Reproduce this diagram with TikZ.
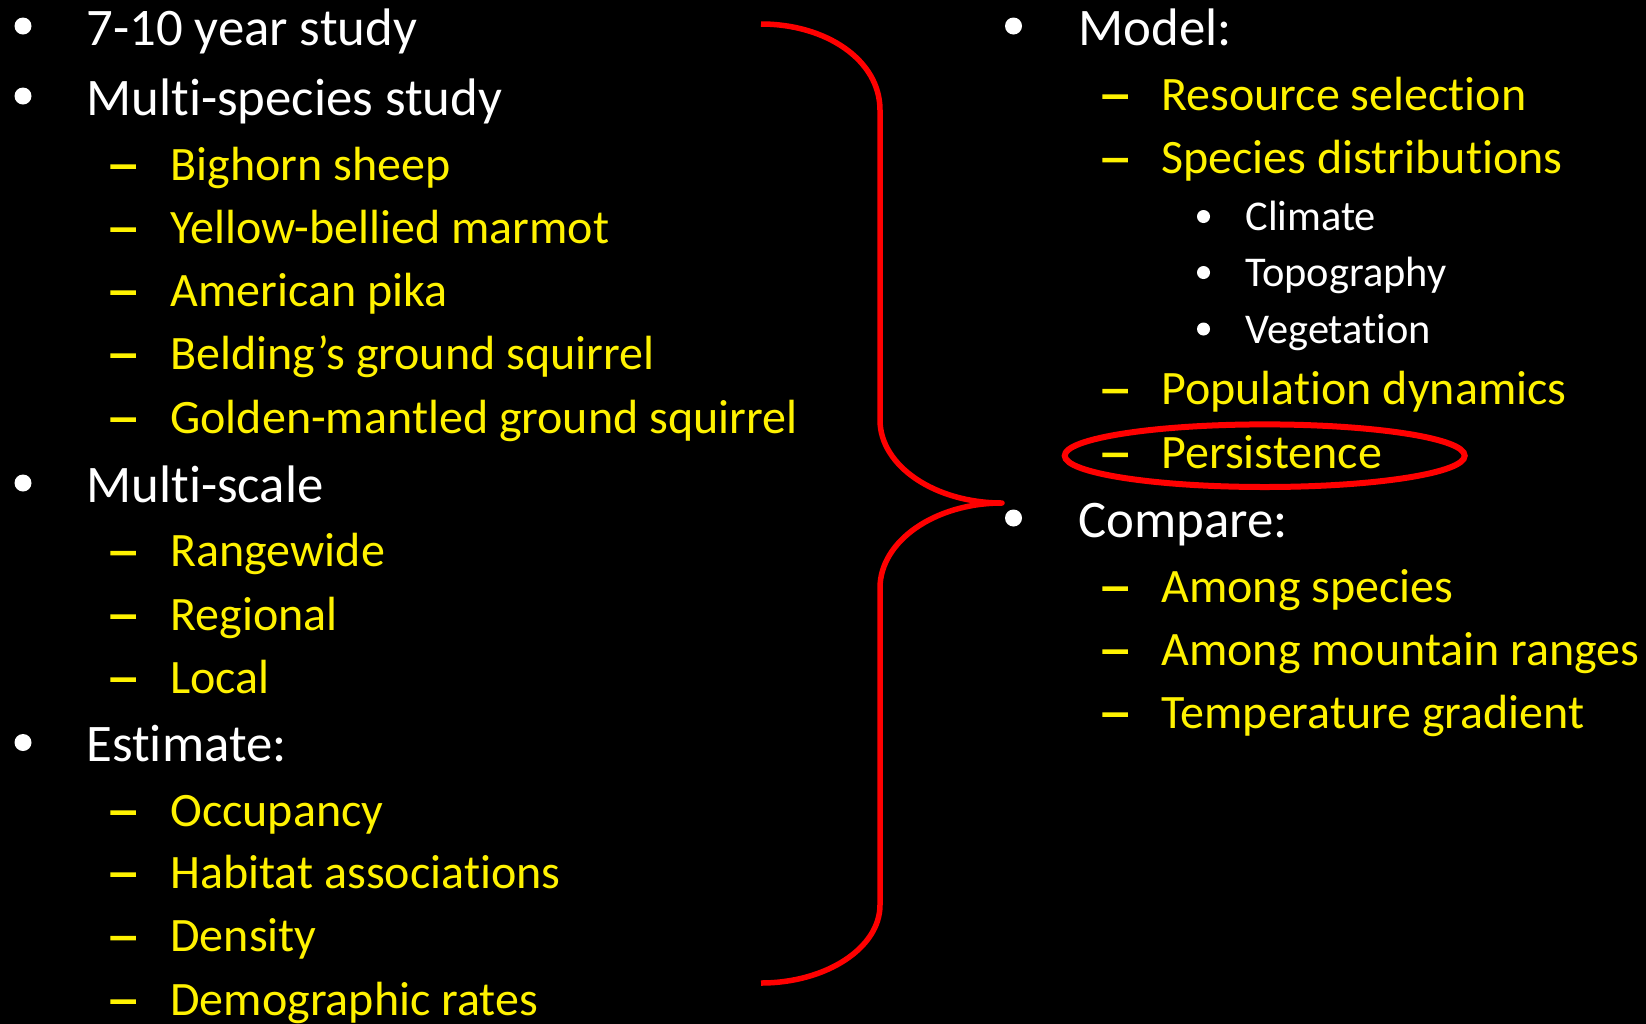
\documentclass[tikz,border=0pt]{standalone}
\usepackage{fontspec}
\setmainfont{Carlito}[Ligatures={NoCommon,NoContextual}]
\newfontfamily\dashfont{Carlito}[FakeStretch=1.4, FakeBold=3]
\begin{document}
\begin{tikzpicture}[x=0.5pt,y=-0.5pt,
  lone/.style={anchor=base west, inner sep=0pt, text=white, font=\fontsize{26.4}{30}\selectfont},
  ltwo/.style={anchor=base west, inner sep=0pt, text=yellow, font=\fontsize{24}{28}\selectfont},
  ldash/.style={anchor=base west, inner sep=0pt, text=yellow, font=\dashfont\fontsize{24}{28}\selectfont},
  lthree/.style={anchor=base west, inner sep=0pt, text=white, font=\fontsize{21.2}{25}\selectfont},
  bigdot/.style={circle, fill=white, inner sep=0pt, minimum size=8.5pt},
  smalldot/.style={circle, fill=white, inner sep=0pt, minimum size=6.5pt},
  bracestroke/.style={draw=red, line width=2.75pt, line join=round},
  ringstroke/.style={draw=red, line width=3pt}]
\fill[black] (0,0) rectangle (1646,1024);
\useasboundingbox (0,0) rectangle (1646,1024);
\clip (0,0) rectangle (1646,1024);
% ---------- left column ----------
\node[bigdot] (b1) at (23,26) {};
\node[lone] (t1) at (86,45) {7-10 year study};
\node[bigdot] (b2) at (23,96) {};
\node[lone] (t2) at (86,115) {Multi-species study};
\node[ldash] (d21) at (106,180) {–}; \node[ltwo] (t21) at (170,180) {Bighorn sheep};
\node[ldash] (d22) at (106,243) {–}; \node[ltwo] (t22) at (170,243) {Yellow-bellied marmot};
\node[ldash] (d23) at (106,306) {–}; \node[ltwo] (t23) at (170,306) {American pika};
\node[ldash] (d24) at (106,369) {–}; \node[ltwo] (t24) at (170,369) {Belding’s ground squirrel};
\node[ldash] (d25) at (106,433) {–}; \node[ltwo] (t25) at (170,433) {Golden-mantled ground squirrel};
\node[bigdot] (b3) at (23,483) {};
\node[lone] (t3) at (86,502) {Multi-scale};
\node[ldash] (d31) at (106,566.5) {–}; \node[ltwo] (t31) at (170,566.5) {Rangewide};
\node[ldash] (d32) at (106,630) {–}; \node[ltwo] (t32) at (170,630) {Regional};
\node[ldash] (d33) at (106,693) {–}; \node[ltwo] (t33) at (170,693) {Local};
\node[bigdot] (b4) at (23,742.5) {};
\node[lone] (t4) at (86,761.5) {Estimate:};
\node[ldash] (d41) at (106,826) {–}; \node[ltwo] (t41) at (170,826) {Occupancy};
\node[ldash] (d42) at (106,888) {–}; \node[ltwo] (t42) at (170,888) {Habitat associations};
\node[ldash] (d43) at (106,951.5) {–}; \node[ltwo] (t43) at (170,951.5) {Density};
\node[ldash] (d44) at (106,1015) {–}; \node[ltwo] (t44) at (170,1015) {Demographic rates};
% ---------- right column ----------
\node[bigdot] (b5) at (1013.5,26) {};
\node[lone] (t5) at (1078,45) {Model:};
\node[ldash] (d51) at (1098,110) {–}; \node[ltwo] (t51) at (1161,110) {Resource selection};
\node[ldash] (d52) at (1098,173.5) {–}; \node[ltwo] (t52) at (1161,173.5) {Species distributions};
\node[smalldot] (s1) at (1203.5,216.5) {}; \node[lthree] (u1) at (1245,230.5) {Climate};
\node[smalldot] (s2) at (1203.5,272.5) {}; \node[lthree] (u2) at (1245,286.5) {Topography};
\node[smalldot] (s3) at (1203.5,329) {}; \node[lthree] (u3) at (1245,343) {Vegetation};
\node[ldash] (d53) at (1098,404.5) {–}; \node[ltwo] (t53) at (1161,404.5) {Population dynamics};
\node[ldash] (d54) at (1098,468.3) {–}; \node[ltwo] (t54) at (1161,468.3) {Persistence};
\node[bigdot] (b6) at (1013.5,518) {};
\node[lone] (t6) at (1078,537) {Compare:};
\node[ldash] (d61) at (1098,602) {–}; \node[ltwo] (t61) at (1161,602) {Among species};
\node[ldash] (d62) at (1098,665) {–}; \node[ltwo] (t62) at (1161,665) {Among mountain ranges};
\node[ldash] (d63) at (1098,728) {–}; \node[ltwo] (t63) at (1161,728) {Temperature gradient};
% ---------- red marks ----------
\coordinate (bracetop) at (761,24);
\coordinate (bracetip) at (1002,503);
\coordinate (bracebot) at (761,983);
\draw[bracestroke] (bracetop) .. controls (826,24) and (880,60) .. (880,110)
  -- (880,420) .. controls (880,466) and (935,503) .. (bracetip)
  .. controls (935,503) and (880,541) .. (880,588)
  -- (880,905) .. controls (880,948) and (826,983) .. (bracebot);
\draw[ringstroke] (1264.7,455.7) ellipse [x radius=200, y radius=31.3];
\end{tikzpicture}
\end{document}
